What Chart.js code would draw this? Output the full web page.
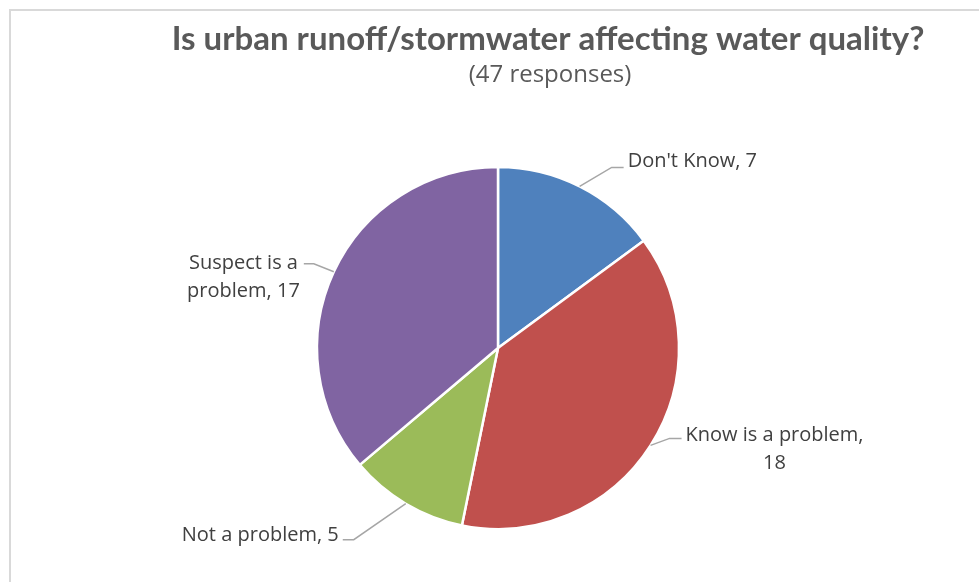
<!DOCTYPE html>
<html>
<head>
<meta charset="utf-8">
<script src="https://cdn.jsdelivr.net/npm/chart.js@4.4.1/dist/chart.umd.min.js"></script>
<style>
  html, body { margin: 0; padding: 0; background: #fff; overflow: hidden; }
  #chartPie { display: block; }
</style>
</head>
<body>
<canvas id="chartPie" width="979" height="582"></canvas>
<script>
// survey answers
var categories = ["Don't Know", "Know is a problem", "Not a problem", "Suspect is a problem"];
var responses = [7, 18, 5, 17];
var sliceColors = ["#4F81BD", "#C0504D", "#9BBB59", "#8064A2"];

var titleText = "Is urban runoff/stormwater affecting water quality?";
var subtitleText = "(47 responses)";

// label lines per slice (as wrapped in the label box)
var labelLines = [
    ["Don't Know, 7"],
    ["Know is a problem,", "18"],
    ["Not a problem, 5"],
    ["Suspect is a", "problem, 17"]
];

// leader line: elbow offset from the slice edge, then a short horizontal tail
var leaderLayout = [
    { elbow: [32, -19], tail: 12, side: 1, textDy: -6 },
    { elbow: [19, -7], tail: 12, side: 1, textDy: 11 },
    { elbow: [-52, 36], tail: -11, side: -1, textDy: -4 },
    { elbow: [-20, -8], tail: -10, side: -1, textDy: 13 }
];

var labelFont = "20px 'Open Sans'";
var lineGap = 28;

// frame, titles, data labels
var decorPlugin = {
    id: 'decor',
    beforeDraw: function (chart) {
        var ctx = chart.ctx;
        ctx.save();
        ctx.fillStyle = '#ffffff';
        ctx.fillRect(0, 0, chart.width, chart.height);
        ctx.strokeStyle = '#d9d9d9';
        ctx.lineWidth = 2;
        ctx.beginPath();
        ctx.moveTo(10, chart.height);
        ctx.lineTo(10, 10);
        ctx.lineTo(chart.width, 10);
        ctx.stroke();
        ctx.restore();
    },
    afterDraw: function (chart) {
        var ctx = chart.ctx;
        ctx.save();
        ctx.textAlign = 'center';
        ctx.textBaseline = 'middle';
        ctx.fillStyle = '#595959';
        ctx.font = 'bold 33px Lato';
        ctx.fillText(titleText, 548, 39);
        ctx.font = "24px 'Open Sans'";
        ctx.fillText(subtitleText, 550, 75);

        var meta = chart.getDatasetMeta(0);
        for (var i = 0; i < meta.data.length; i++) {
            var arc = meta.data[i];
            var p = arc.getProps(['x', 'y', 'startAngle', 'endAngle', 'outerRadius'], true);
            var mid = (p.startAngle + p.endAngle) / 2;
            var sx = p.x + Math.cos(mid) * p.outerRadius;
            var sy = p.y + Math.sin(mid) * p.outerRadius;
            var lay = leaderLayout[i];
            var ex = sx + lay.elbow[0];
            var ey = sy + lay.elbow[1];
            var tx = ex + lay.tail;

            ctx.strokeStyle = '#a6a6a6';
            ctx.lineWidth = 1.5;
            ctx.beginPath();
            ctx.moveTo(sx, sy);
            ctx.lineTo(ex, ey);
            ctx.lineTo(tx, ey);
            ctx.stroke();

            ctx.font = labelFont;
            ctx.fillStyle = '#404040';
            var lines = labelLines[i];
            var w = 0;
            for (var k = 0; k < lines.length; k++) {
                w = Math.max(w, ctx.measureText(lines[k]).width);
            }
            var left = lay.side > 0 ? tx + 4 : tx - 4 - w;
            var top = ey + lay.textDy - (lines.length - 1) * lineGap / 2;
            for (var k = 0; k < lines.length; k++) {
                ctx.textAlign = 'center';
                ctx.fillText(lines[k], left + w / 2, top + k * lineGap);
            }
        }
        ctx.restore();
    }
};

var ctx = document.getElementById('chartPie').getContext('2d');
var myChart = new Chart(ctx, {
    type: 'pie',
    data: {
        labels: categories,
        datasets: [{
            data: responses,
            backgroundColor: sliceColors,
            borderColor: '#ffffff',
            borderWidth: 2.5
        }]
    },
    options: {
        responsive: false,
        animation: false,
        events: [],
        radius: 181,
        layout: {
            padding: { left: 100, right: 83, top: 140, bottom: 26 }
        },
        plugins: {
            legend: { display: false },
            title: { display: false },
            tooltip: { enabled: false }
        }
    },
    plugins: [decorPlugin]
});
</script>
</body>
</html>
